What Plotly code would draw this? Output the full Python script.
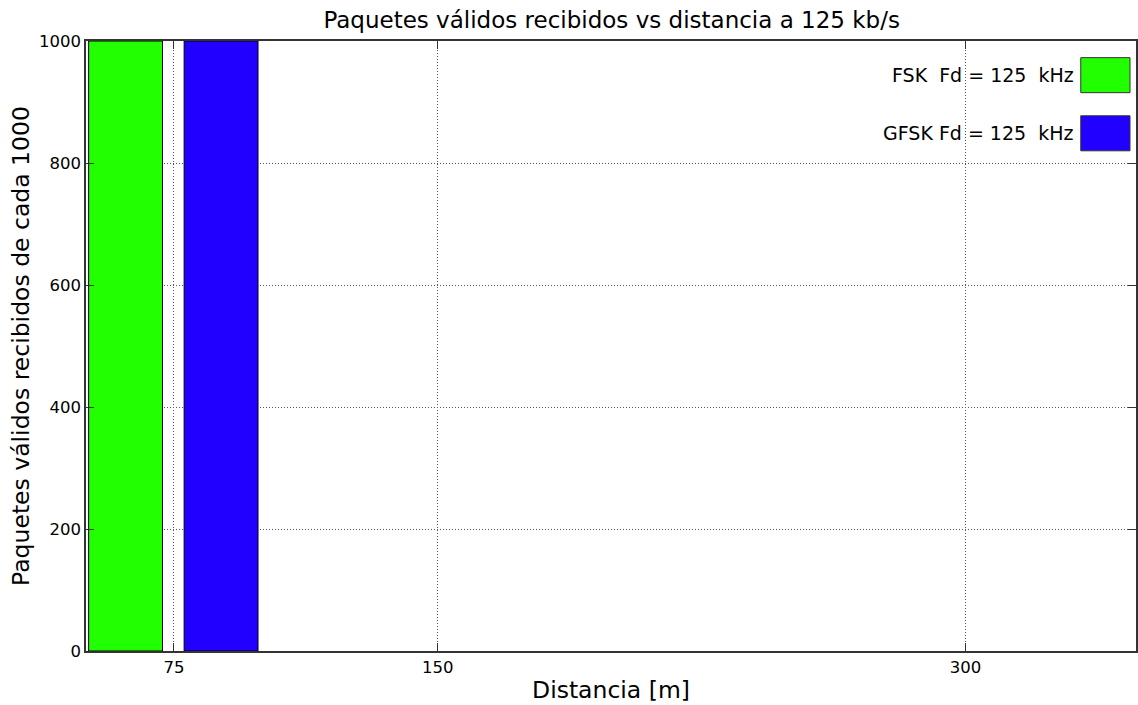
import plotly.graph_objects as go

# Packet reception per modulation at 125 kb/s
series_names = ["FSK\u00a0\u00a0Fd = 125\u00a0\u00a0kHz", "GFSK Fd = 125\u00a0\u00a0kHz"]
bar_centers = [61.25, 88.4]
bar_width = [21.0, 21.0]
packets_ok = [1000, 1000]
bar_colors = ["#22ff00", "#2200ff"]

x_ticks = [75, 150, 300]
y_ticks = [0, 200, 400, 600, 800, 1000]

FONT = "DejaVu Sans"

fig = go.Figure()
for name, xc, w, val, col in zip(series_names, bar_centers, bar_width, packets_ok, bar_colors):
    fig.add_trace(go.Bar(
        x=[xc], y=[val], width=[w], name=name,
        marker=dict(color=col, line=dict(color="black", width=1)),
        showlegend=False,
    ))

# Legend drawn as text with colour patches on the right
legend_y = [0.944, 0.8487]
for name, col, ly in zip(series_names, bar_colors, legend_y):
    fig.add_annotation(
        xref="paper", yref="paper", x=0.9433, y=ly, xanchor="right", yanchor="middle",
        text=name, showarrow=False, font=dict(family=FONT, size=19, color="black"),
    )
    fig.add_shape(
        type="rect", xref="paper", yref="paper",
        x0=0.9474, x1=0.9943, y0=ly - 0.0287, y1=ly + 0.0287,
        fillcolor=col, line=dict(color="#333333", width=1),
    )

axis_common = dict(
    showline=True, linecolor="#333333", linewidth=1.5, mirror="ticks",
    ticks="inside", ticklen=8, tickcolor="#333333", tickwidth=1.2,
    showgrid=True, gridcolor="#555555", griddash="1px,2px", gridwidth=1,
    zeroline=False, tickfont=dict(family=FONT, size=16.5, color="black"),
)

fig.update_layout(
    width=1138, height=705,
    margin=dict(l=86, r=0, t=41, b=54),
    paper_bgcolor="white", plot_bgcolor="white",
    barmode="overlay",
    title=dict(text="Paquetes válidos recibidos vs distancia a 125 kb/s",
               x=0.5375, xanchor="center", y=0.971, yanchor="middle",
               font=dict(family=FONT, size=23, color="black")),
    xaxis=dict(range=[50, 348.5], tickvals=x_ticks, ticktext=[str(v) for v in x_ticks],
               title=dict(text="Distancia [m]", font=dict(family=FONT, size=23.5, color="black"),
                          standoff=6),
               **axis_common),
    yaxis=dict(range=[0, 1000], tickvals=y_ticks,
               title=dict(text="Paquetes válidos recibidos de cada 1000",
                          font=dict(family=FONT, size=23.5, color="black"), standoff=3),
               **axis_common),
)

fig.write_html("out.html")
